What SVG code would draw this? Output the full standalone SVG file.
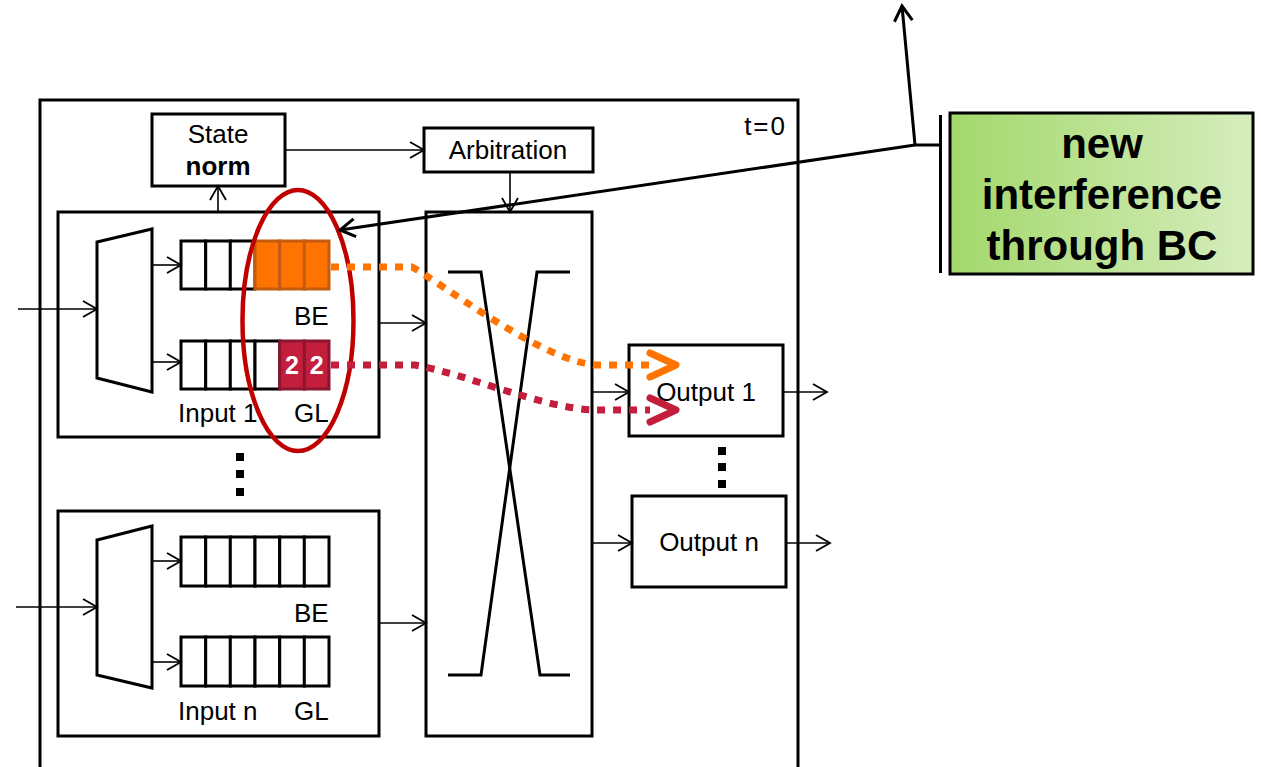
<svg xmlns="http://www.w3.org/2000/svg" width="1261" height="767" viewBox="0 0 1261 767">
  <defs>
    <marker id="arr" markerUnits="userSpaceOnUse" markerWidth="20" markerHeight="20" refX="15" refY="9" orient="auto" overflow="visible">
      <path d="M1,1 L15,9 L1,17" fill="none" stroke="#000" stroke-width="1.8"/>
    </marker>
    <marker id="arrBig" markerUnits="userSpaceOnUse" markerWidth="24" markerHeight="24" refX="16" refY="10" orient="auto" overflow="visible">
      <path d="M1,1 L16,10 L1,19" fill="none" stroke="#000" stroke-width="3"/>
    </marker>
    <linearGradient id="green" x1="0" y1="0" x2="1" y2="0">
      <stop offset="0" stop-color="#a3d86b"/>
      <stop offset="1" stop-color="#d6edbd"/>
    </linearGradient>
    <style>
      .box { fill: #fff; stroke: #000; stroke-width: 3; }
      .cell { fill: #fff; stroke: #000; stroke-width: 3; }
      .be { fill: #ff7300; stroke: #c55a11; stroke-width: 3; }
      .gl { fill: #c41e3d; stroke: #8c1530; stroke-width: 3; }
      .wire { fill: none; stroke: #000; stroke-width: 1.6; marker-end: url(#arr); }
      .lbl { font-family: "Liberation Sans", Arial, sans-serif; font-size: 26px; fill: #000; }
      .num { font-family: "Liberation Sans", Arial, sans-serif; font-size: 25px; font-weight: bold; fill: #fff; text-anchor: middle; }
      .big { font-family: "Liberation Sans", Arial, sans-serif; font-size: 42px; font-weight: bold; fill: #000; text-anchor: middle; }
      .dot { fill: #000; }
      .xbar { fill: none; stroke: #000; stroke-width: 3; }
    </style>
  </defs>

  <rect width="1261" height="767" fill="#fff"/>

  <!-- router frame -->
  <g id="router">
    <rect x="40" y="100" width="758" height="700" class="box"/>
    <text x="787" y="135" class="lbl" text-anchor="end" letter-spacing="2">t=0</text>
  </g>

  <!-- state register -->
  <g id="state">
    <rect x="152" y="114" width="133" height="72" class="box"/>
    <text x="218" y="143" class="lbl" text-anchor="middle">State</text>
    <text x="218" y="175" class="lbl" text-anchor="middle" font-weight="bold">norm</text>
  </g>

  <!-- arbitration -->
  <g id="arbitration">
    <rect x="424" y="128" width="169" height="44" class="box"/>
    <text x="508" y="159" class="lbl" text-anchor="middle">Arbitration</text>
  </g>

  <!-- input port 1 -->
  <g id="input1">
    <rect x="58" y="212" width="321" height="225" class="box"/>
    <path d="M97,242 L152,229 L152,392 L97,378 Z" class="box"/>
    <!-- BE queue -->
    <rect x="181" y="241" width="24.7" height="48" class="cell"/>
    <rect x="205.7" y="241" width="24.7" height="48" class="cell"/>
    <rect x="230.3" y="241" width="24.7" height="48" class="cell"/>
    <rect x="255" y="241" width="24.7" height="48" class="be"/>
    <rect x="279.7" y="241" width="24.7" height="48" class="be"/>
    <rect x="304.3" y="241" width="24.7" height="48" class="be"/>
    <!-- GL queue -->
    <rect x="181" y="341" width="24.7" height="48" class="cell"/>
    <rect x="205.7" y="341" width="24.7" height="48" class="cell"/>
    <rect x="230.3" y="341" width="24.7" height="48" class="cell"/>
    <rect x="255" y="341" width="24.7" height="48" class="cell"/>
    <rect x="279.7" y="341" width="24.7" height="48" class="gl"/>
    <rect x="304.3" y="341" width="24.7" height="48" class="gl"/>
    <text x="292" y="374" class="num">2</text>
    <text x="316.7" y="374" class="num">2</text>
    <text x="294" y="325" class="lbl">BE</text>
    <text x="178" y="422" class="lbl">Input 1</text>
    <text x="294" y="422" class="lbl">GL</text>
  </g>

  <!-- ellipsis between inputs -->
  <g id="inputDots">
    <rect x="236" y="453" width="8" height="8" class="dot"/>
    <rect x="236" y="470" width="8" height="8" class="dot"/>
    <rect x="236" y="488" width="8" height="8" class="dot"/>
  </g>

  <!-- input port n -->
  <g id="inputN">
    <rect x="58" y="511" width="321" height="225" class="box"/>
    <path d="M97,540 L152,526 L152,688 L97,675 Z" class="box"/>
    <rect x="181" y="537" width="24.7" height="49" class="cell"/>
    <rect x="205.7" y="537" width="24.7" height="49" class="cell"/>
    <rect x="230.3" y="537" width="24.7" height="49" class="cell"/>
    <rect x="255" y="537" width="24.7" height="49" class="cell"/>
    <rect x="279.7" y="537" width="24.7" height="49" class="cell"/>
    <rect x="304.3" y="537" width="24.7" height="49" class="cell"/>
    <rect x="181" y="637" width="24.7" height="49" class="cell"/>
    <rect x="205.7" y="637" width="24.7" height="49" class="cell"/>
    <rect x="230.3" y="637" width="24.7" height="49" class="cell"/>
    <rect x="255" y="637" width="24.7" height="49" class="cell"/>
    <rect x="279.7" y="637" width="24.7" height="49" class="cell"/>
    <rect x="304.3" y="637" width="24.7" height="49" class="cell"/>
    <text x="294" y="622" class="lbl">BE</text>
    <text x="178" y="720" class="lbl">Input n</text>
    <text x="294" y="720" class="lbl">GL</text>
  </g>

  <!-- crossbar -->
  <g id="crossbar">
    <rect x="426" y="212" width="166" height="524" class="box"/>
    <path d="M448,272 L481,272 L540,675 L570,675" class="xbar"/>
    <path d="M570,272 L537,272 L481,675 L448,675" class="xbar"/>
  </g>

  <!-- output ports -->
  <g id="output1">
    <rect x="629" y="345" width="154" height="91" class="box"/>
    <text x="706" y="401" class="lbl" text-anchor="middle">Output 1</text>
  </g>
  <g id="outputDots">
    <rect x="718" y="447" width="8" height="8" class="dot"/>
    <rect x="718" y="463" width="8" height="8" class="dot"/>
    <rect x="718" y="480" width="8" height="8" class="dot"/>
  </g>
  <g id="outputN">
    <rect x="632" y="496" width="154" height="91" class="box"/>
    <text x="709" y="551" class="lbl" text-anchor="middle">Output n</text>
  </g>

  <!-- annotation box -->
  <g id="note">
    <rect x="950" y="113" width="303" height="161" fill="url(#green)" stroke="#000" stroke-width="3"/>
    <line x1="940.5" y1="115" x2="940.5" y2="273" stroke="#000" stroke-width="3"/>
    <text x="1102" y="158" class="big">new</text>
    <text x="1102" y="209" class="big">interference</text>
    <text x="1102" y="260" class="big">through BC</text>
  </g>

  <!-- highlight ellipse -->
  <g id="highlight">
    <ellipse cx="298" cy="320.5" rx="55.5" ry="130.5" fill="none" stroke="#c00000" stroke-width="4.5"/>
  </g>

  <!-- connectors -->
  <g id="connectors">
    <line x1="285" y1="150" x2="424" y2="150" class="wire"/>
    <line x1="510" y1="172" x2="510" y2="212" class="wire"/>
    <line x1="218" y1="212" x2="218" y2="186" class="wire"/>
    <line x1="18" y1="309" x2="97" y2="309" class="wire"/>
    <line x1="152" y1="265" x2="181" y2="265" class="wire"/>
    <line x1="152" y1="362" x2="181" y2="362" class="wire"/>
    <line x1="379" y1="323" x2="426" y2="323" class="wire"/>
    <line x1="16" y1="607" x2="97" y2="607" class="wire"/>
    <line x1="152" y1="561" x2="181" y2="561" class="wire"/>
    <line x1="152" y1="662" x2="181" y2="662" class="wire"/>
    <line x1="379" y1="623" x2="426" y2="623" class="wire"/>
    <line x1="592" y1="392" x2="629" y2="392" class="wire"/>
    <line x1="783" y1="392" x2="827" y2="392" class="wire"/>
    <line x1="592" y1="543" x2="632" y2="543" class="wire"/>
    <line x1="786" y1="543" x2="830" y2="543" class="wire"/>

    <!-- flits taking the crossbar -->
    <path d="M331,267 L412,267 C440,282 540,360 595,365 L650,365" fill="none" stroke="#ff7300" stroke-width="7" stroke-dasharray="8 8"/>
    <path d="M650,353 L676,365 L650,377" fill="none" stroke="#ff7300" stroke-width="7" stroke-linecap="round" stroke-linejoin="round"/>
    <path d="M331,365 L415,365 C470,375 540,408 595,410 L650,410" fill="none" stroke="#c41e3d" stroke-width="7" stroke-dasharray="8 8"/>
    <path d="M650,398 L676,410 L650,422" fill="none" stroke="#c41e3d" stroke-width="7" stroke-linecap="round" stroke-linejoin="round"/>

    <!-- annotation leaders -->
    <polyline points="940,145 915,145" fill="none" stroke="#000" stroke-width="3"/>
    <line x1="915" y1="145" x2="340" y2="230" fill="none" stroke="#000" stroke-width="3" marker-end="url(#arrBig)"/>
    <line x1="915" y1="145" x2="902" y2="6" fill="none" stroke="#000" stroke-width="3" marker-end="url(#arrBig)"/>
  </g>
</svg>
